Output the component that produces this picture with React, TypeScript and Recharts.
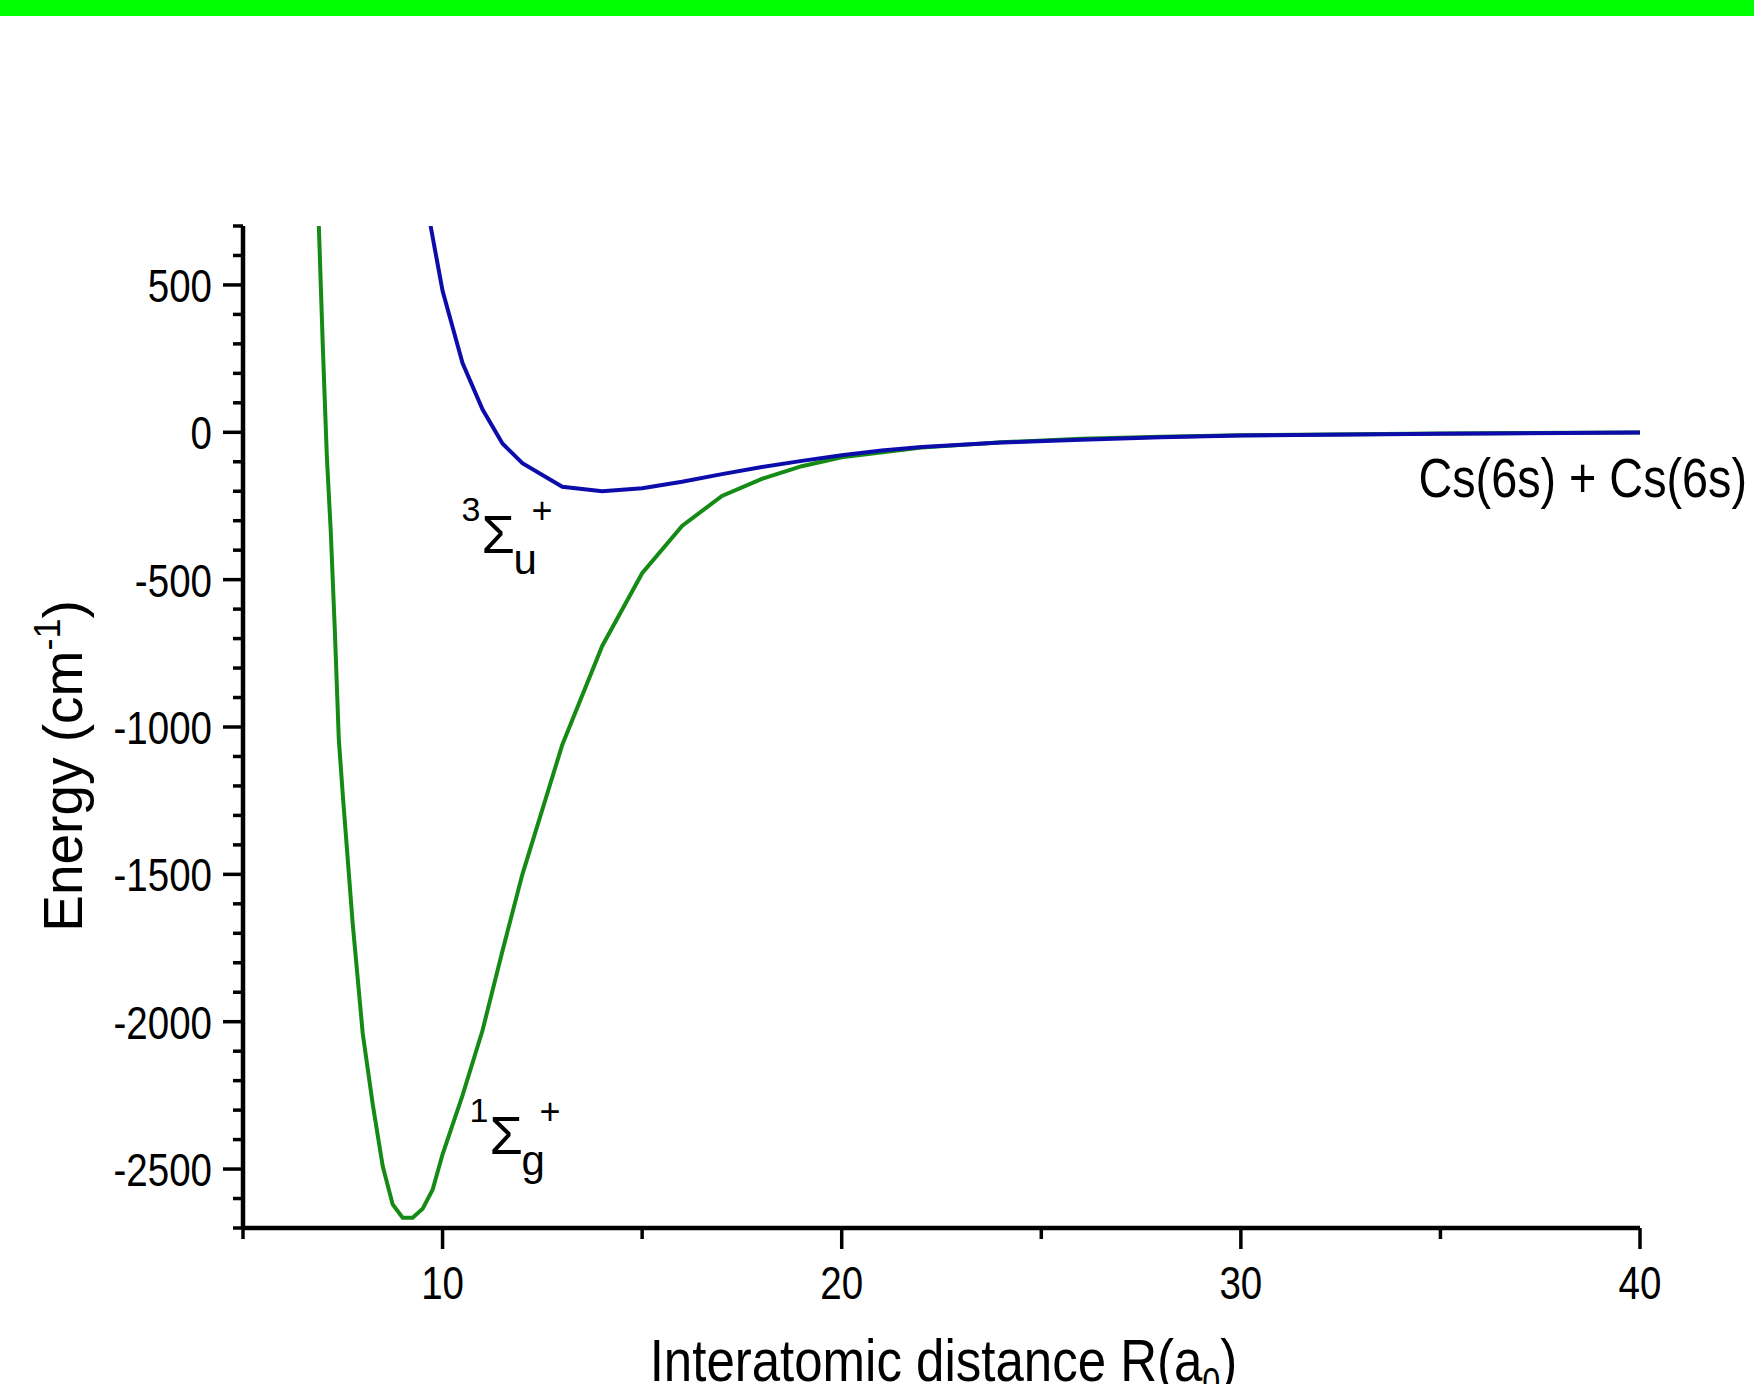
import React from 'react';
import { LineChart, Line, XAxis, YAxis, ReferenceDot } from 'recharts';

// 1Σg+ (singlet) potential curve: interatomic distance R (a0) and energy (cm^-1)
const singletR = [6.9, 7.0, 7.1, 7.2, 7.3, 7.4, 7.5, 7.75, 8.0, 8.25, 8.5, 8.75, 9.0, 9.25, 9.5, 9.75, 10, 10.5, 11, 11.5, 12, 13, 14, 15, 16, 17, 18, 19, 20, 22, 24, 26, 28, 30, 35, 40];
const singletE = [700, 290, -80, -340, -670, -1040, -1230, -1670, -2040, -2280, -2490, -2620, -2665, -2665, -2635, -2570, -2450, -2250, -2030, -1760, -1500, -1060, -725, -478, -318, -216, -158, -115, -85, -52, -34, -22, -15, -10, -4, -1];

// 3Σu+ (triplet) potential curve
const tripletR = [9.7, 10, 10.5, 11, 11.5, 12, 13, 14, 15, 16, 17, 18, 19, 20, 21, 22, 24, 26, 28, 30, 35, 40];
const tripletE = [700, 480, 235, 78, -38, -105, -185, -200, -190, -168, -142, -118, -97, -78, -62, -50, -35, -25, -17, -11, -5, -1];

// axis ticks
const xMajorTicks = [10, 20, 30, 40];
const xMinorTicks = [5, 15, 25, 35];
const yMajorTicks = [-2500, -2000, -1500, -1000, -500, 0, 500];
const yMinorTicks = [-2700, -2600, -2400, -2300, -2200, -2100, -1900, -1800, -1700, -1600, -1400, -1300, -1200, -1100, -900, -800, -700, -600, -400, -300, -200, -100, 100, 200, 300, 400, 600, 700];

const xTitle = 'Interatomic distance R(a';
const yTitle = 'Energy (cm';
const asymptoteLabel = 'Cs(6s) + Cs(6s)';

const singletData = singletR.map((r, i) => ({ r, e: singletE[i] }));
const tripletData = tripletR.map((r, i) => ({ r, e: tripletE[i] }));
const xTicks = [...xMinorTicks, ...xMajorTicks].sort((a, b) => a - b);
const yTicks = [...yMinorTicks, ...yMajorTicks].sort((a, b) => a - b);

const SANS = "'Liberation Sans', Arial, sans-serif";

// horizontally condensed text (the reference uses a narrow sans face)
const CText = (props: any) => {
  const { x, y, sx, anchor, size, children } = props;
  return (
    <g transform={`translate(${x},${y}) scale(${sx},1)`}>
      <text x={0} y={0} textAnchor={anchor} fontSize={size} fontFamily={SANS} fill="#000">
        {children}
      </text>
    </g>
  );
};

const XTick = (props: any) => {
  const { x, y, payload } = props;
  const v = payload.value;
  const major = xMajorTicks.includes(v);
  return (
    <g>
      <line x1={x} y1={y} x2={x} y2={y + (major ? 21 : 11)} stroke="#000" strokeWidth={3.5} />
      {major && (
        <CText x={x} y={y + 71} sx={0.82} anchor="middle" size={47}>
          {v}
        </CText>
      )}
    </g>
  );
};

const YTick = (props: any) => {
  const { x, y, payload } = props;
  const v = payload.value;
  const major = yMajorTicks.includes(v);
  return (
    <g>
      <line x1={x} y1={y} x2={x - (major ? 20 : 10)} y2={y} stroke="#000" strokeWidth={3.5} />
      {major && (
        <CText x={x - 31} y={y + 17} sx={0.82} anchor="end" size={47}>
          {v}
        </CText>
      )}
    </g>
  );
};

const XTitle = (props: any) => {
  const vb = props.viewBox || {};
  const cx = vb.x + vb.width / 2 + 2;
  const by = vb.y + 153;
  return (
    <CText x={cx} y={by} sx={0.85} anchor="middle" size={60}>
      {xTitle}
      <tspan fontSize={38} dy={14}>0</tspan>
      <tspan dy={-14}>)</tspan>
    </CText>
  );
};

const YTitle = (props: any) => {
  const vb = props.viewBox || {};
  const bx = 82;
  const cy = vb.y + vb.height / 2 + 39;
  return (
    <text
      x={bx}
      y={cy}
      transform={`rotate(-90, ${bx}, ${cy})`}
      textAnchor="middle"
      fontSize={55}
      fontFamily={SANS}
      fill="#000"
    >
      {yTitle}
      <tspan fontSize={36} dy={-22}>-1</tspan>
      <tspan dy={22}>)</tspan>
    </text>
  );
};

const TermSymbol = (mult: string, sub: string) => (props: any) => {
  const { cx, cy } = props;
  if (cx == null || cy == null) return <g />;
  return (
    <g fill="#000">
      <text x={cx - 2} y={cy - 32} textAnchor="end" fontSize={34} fontFamily={SANS}>{mult}</text>
      <text x={cx - 1} y={cy} fontSize={54} fontFamily={SANS}>Σ</text>
      <text x={cx + 31} y={cy + 21} fontSize={42} fontFamily={SANS}>{sub}</text>
      <text x={cx + 49} y={cy - 30} fontSize={36} fontFamily={SANS}>+</text>
    </g>
  );
};

const AsymptoteText = (props: any) => {
  const { cx, cy } = props;
  if (cx == null || cy == null) return <g />;
  return (
    <CText x={cx + 107} y={cy + 65} sx={0.85} anchor="end" size={55}>
      {asymptoteLabel}
    </CText>
  );
};

export default function App() {
  return (
    <div style={{ position: 'absolute', left: 0, top: 0, width: 1754, height: 1384, background: '#fff', overflow: 'hidden' }}>
      <div style={{ position: 'absolute', left: 0, top: 0, width: 1754, height: 16, background: '#00ff00' }} />
      <div style={{ position: 'absolute', left: 0, top: 0 }}>
        <LineChart width={1754} height={1384} margin={{ top: 226, right: 114, bottom: 0, left: 0 }}>
          <XAxis
            type="number"
            dataKey="r"
            domain={[5, 40]}
            ticks={xTicks}
            interval={0}
            height={156}
            allowDataOverflow
            axisLine={{ stroke: '#000', strokeWidth: 4.5 }}
            tickLine={false}
            tickSize={0}
            tickMargin={0}
            tick={<XTick />}
            label={{ content: (p: any) => <XTitle {...p} /> }}
          />
          <YAxis
            type="number"
            dataKey="e"
            domain={[-2700, 700]}
            ticks={yTicks}
            interval={0}
            width={243}
            allowDataOverflow
            axisLine={{ stroke: '#000', strokeWidth: 4.5 }}
            tickLine={false}
            tickSize={0}
            tickMargin={0}
            tick={<YTick />}
            label={{ content: (p: any) => <YTitle {...p} /> }}
          />
          <Line
            data={singletData}
            dataKey="e"
            type="linear"
            stroke="#158a15"
            strokeWidth={4}
            dot={false}
            activeDot={false}
            isAnimationActive={false}
          />
          <Line
            data={tripletData}
            dataKey="e"
            type="linear"
            stroke="#0c0cab"
            strokeWidth={4}
            dot={false}
            activeDot={false}
            isAnimationActive={false}
          />
          <ReferenceDot x={11.0} y={-410} r={0} shape={TermSymbol('3', 'u')} />
          <ReferenceDot x={11.2} y={-2450} r={0} shape={TermSymbol('1', 'g')} />
          <ReferenceDot x={40} y={0} r={0} shape={AsymptoteText} />
        </LineChart>
      </div>
    </div>
  );
}
